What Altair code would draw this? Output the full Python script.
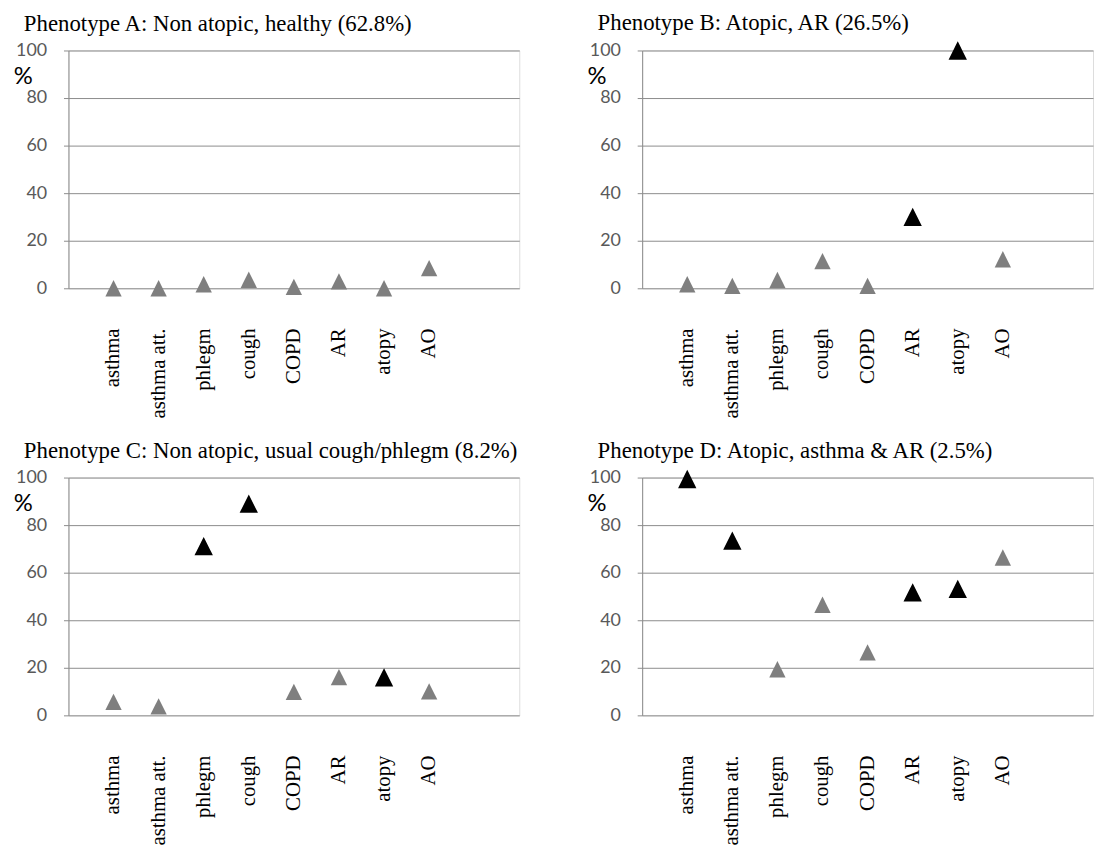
import altair as alt
import pandas as pd

categories = ["asthma", "asthma att.", "phlegm", "cough", "COPD", "AR", "atopy", "AO"]
titles = [
    "Phenotype A: Non atopic, healthy (62.8%)",
    "Phenotype B: Atopic, AR (26.5%)",
    "Phenotype C: Non atopic, usual cough/phlegm (8.2%)",
    "Phenotype D: Atopic, asthma & AR (2.5%)",
]
values_A = [0, 0, 1.7, 3.6, 0.6, 2.9, 0, 8.5]
values_B = [1.7, 1.0, 3.5, 11.4, 1.0, 30, 100, 12.2]
values_C = [5.7, 3.8, 71.2, 89, 9.9, 16.1, 16, 10.1]
values_D = [99.4, 73.5, 19.4, 46.5, 26.5, 51.7, 53.2, 66.4]
highlight_A = [0, 0, 0, 0, 0, 0, 0, 0]
highlight_B = [0, 0, 0, 0, 0, 1, 1, 0]
highlight_C = [0, 0, 1, 1, 0, 0, 1, 0]
highlight_D = [1, 1, 0, 0, 0, 1, 1, 0]
y_ticks = [0, 20, 40, 60, 80, 100]

TRI = "M-1,1L0,-1L1,1Z"
GRID = "#8c8c8c"
W, H = 455, 240


def panel(title, values, hl):
    df = pd.DataFrame({"cat": categories, "value": values, "hl": hl})
    x = alt.X(
        "cat:N",
        sort=categories,
        scale=alt.Scale(type="band", paddingInner=0, paddingOuter=1, align=0.25),
        axis=alt.Axis(
            title=None, labelAngle=-90, ticks=False, domain=False, grid=False,
            labelFont="Liberation Serif", labelFontSize=21, labelColor="black",
            labelPadding=40,
        ),
    )
    y = alt.Y(
        "value:Q",
        scale=alt.Scale(domain=[0, 100], nice=False, zero=True),
        axis=alt.Axis(
            values=y_ticks, title="%", titleAngle=0, titleX=-46, titleY=26,
            titleAlign="center", titleBaseline="middle", titleFont="Lato",
            titleFontSize=24, titleFontWeight="normal", titleColor="black",
            grid=True, gridColor=GRID, gridWidth=1, domainColor=GRID,
            ticks=True, tickColor=GRID, tickSize=5, labelPadding=17, labelFont="Lato",
            labelFontSize=18, labelColor="#595959",
        ),
    )
    base = alt.Chart(df)
    gray = base.mark_point(shape=TRI, filled=True, color="#7f7f7f", size=272, opacity=1).encode(x=x, y=y)
    black = base.transform_filter("datum.hl == 1").mark_point(
        shape=TRI, filled=True, color="black", size=342, opacity=1
    ).encode(x=x, y=y)
    return alt.layer(gray, black).properties(
        width=W, height=H,
        title=alt.TitleParams(
            title, anchor="start", frame="group", dx=-45, font="Liberation Serif",
            fontSize=23, fontWeight="normal", color="black", offset=6,
        ),
    )


top = alt.hconcat(panel(titles[0], values_A, highlight_A), panel(titles[1], values_B, highlight_B), spacing=66)
bottom = alt.hconcat(panel(titles[2], values_C, highlight_C), panel(titles[3], values_D, highlight_D), spacing=66)
chart = alt.vconcat(top, bottom, spacing=20).properties(
    padding={"left": 4, "top": 0, "right": 0, "bottom": 0}
).configure_view(stroke=None).configure(background="white")

chart.save("out.html", embed_options={"renderer": "svg", "actions": False})
